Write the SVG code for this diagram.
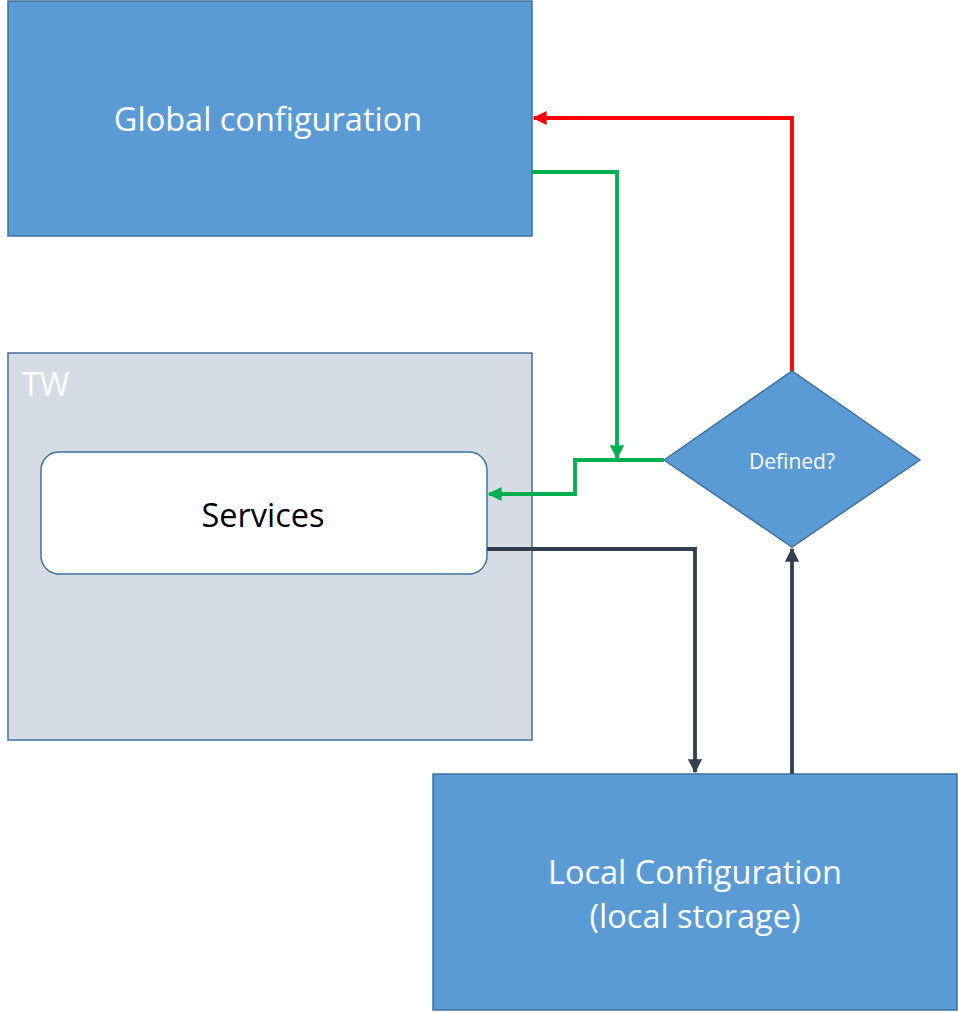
<svg xmlns="http://www.w3.org/2000/svg" width="958" height="1012" viewBox="0 0 958 1012">
<style>
.box{fill:#5B9BD5;stroke:#41719C;stroke-width:1.5}
.t{font-family:"Open Sans","Noto Sans",sans-serif;text-anchor:middle;fill:#fff}
.c{fill:none;stroke-width:3.8}
</style>
<defs>
<marker id="ar" viewBox="0 0 10 10" refX="9" refY="5" markerWidth="3.7" markerHeight="3.7" orient="auto" markerUnits="strokeWidth"><path d="M0,0L10,5L0,10z" fill="#FF0000"/></marker>
<marker id="ag" viewBox="0 0 10 10" refX="9" refY="5" markerWidth="3.7" markerHeight="3.7" orient="auto" markerUnits="strokeWidth"><path d="M0,0L10,5L0,10z" fill="#00B050"/></marker>
<marker id="ad" viewBox="0 0 10 10" refX="9" refY="5" markerWidth="3.7" markerHeight="3.7" orient="auto" markerUnits="strokeWidth"><path d="M0,0L10,5L0,10z" fill="#333F50"/></marker>
</defs>
<rect width="958" height="1012" fill="#fff"/>
<g id="global">
<rect class="box" x="8" y="1" width="524" height="235"/>
<text class="t" x="268" y="131" font-size="32.5">Global configuration</text>
</g>
<g id="tw">
<rect x="8" y="353" width="524" height="387" fill="#D6DCE5" stroke="#41719C" stroke-width="1.5"/>
<text x="22" y="396" font-family="Open Sans,Noto Sans,sans-serif" font-size="32" fill="#fff">TW</text>
</g>
<g id="services">
<rect x="41" y="452" width="446" height="122" rx="18" fill="#fff" stroke="#41719C" stroke-width="1.5"/>
<text class="t" x="263" y="527" font-size="32.5" style="fill:#000">Services</text>
</g>
<g id="defined">
<polygon class="box" points="664,460 792,371 920,460 792,547"/>
<text class="t" x="792" y="469" font-size="21">Defined?</text>
</g>
<g id="local">
<rect class="box" x="433" y="774" width="524" height="236"/>
<text class="t" x="695" y="884" font-size="32.5">Local Configuration</text>
<text class="t" x="695" y="928" font-size="32.5">(local storage)</text>
</g>
<g id="connectors">
<path class="c" stroke="#FF0000" d="M792,371V118H534" marker-end="url(#ar)"/>
<path class="c" stroke="#00B050" d="M532,172H617V458" marker-end="url(#ag)"/>
<path class="c" stroke="#00B050" d="M664,460H575V494H489" marker-end="url(#ag)"/>
<path class="c" stroke="#333F50" d="M487,549H695V772" marker-end="url(#ad)"/>
<path class="c" stroke="#333F50" d="M792,774V549" marker-end="url(#ad)"/>
</g>
</svg>
